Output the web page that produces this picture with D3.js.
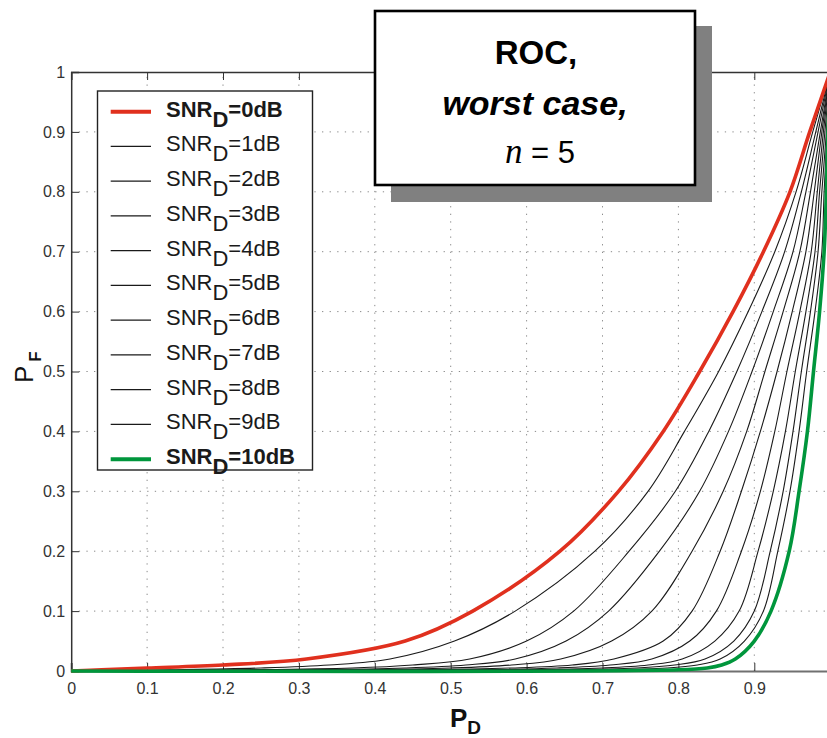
<!DOCTYPE html>
<html>
<head>
<meta charset="utf-8">
<script src="https://cdn.jsdelivr.net/npm/d3@7/dist/d3.min.js"></script>
<style>
  html, body { margin: 0; padding: 0; background: #fff; }
  svg { display: block; font-family: "Liberation Sans", Arial, sans-serif; }
</style>
</head>
<body>
<svg id="chart" width="827" height="738"></svg>
<script>
// ---- data ----
const pfLevels = [0, 0.002, 0.005, 0.01, 0.02, 0.05, 0.1, 0.2, 0.3, 0.4, 0.5, 0.6, 0.7, 0.8, 0.9, 1];
const pdSnr0dB  = [0, 0.04, 0.10, 0.20, 0.31, 0.44, 0.529, 0.644, 0.721, 0.780, 0.828, 0.872, 0.912, 0.947, 0.973, 1];
const pdSnr1dB  = [0, 0.13, 0.25, 0.34, 0.42, 0.505, 0.585, 0.690, 0.760, 0.808, 0.853, 0.892, 0.927, 0.955, 0.977, 1];
const pdSnr2dB  = [0, 0.22, 0.37, 0.45, 0.525, 0.600, 0.662, 0.735, 0.796, 0.840, 0.877, 0.910, 0.940, 0.962, 0.981, 1];
const pdSnr3dB  = [0, 0.30, 0.44, 0.52, 0.585, 0.652, 0.708, 0.775, 0.828, 0.866, 0.897, 0.925, 0.951, 0.968, 0.984, 1];
const pdSnr4dB  = [0, 0.37, 0.50, 0.58, 0.645, 0.712, 0.765, 0.818, 0.859, 0.890, 0.914, 0.938, 0.960, 0.974, 0.987, 1];
const pdSnr5dB  = [0, 0.45, 0.58, 0.66, 0.715, 0.780, 0.818, 0.855, 0.883, 0.908, 0.930, 0.950, 0.968, 0.979, 0.989, 1];
const pdSnr6dB  = [0, 0.52, 0.64, 0.71, 0.765, 0.815, 0.850, 0.883, 0.908, 0.927, 0.943, 0.960, 0.975, 0.983, 0.991, 1];
const pdSnr7dB  = [0, 0.59, 0.70, 0.76, 0.805, 0.848, 0.880, 0.905, 0.925, 0.941, 0.954, 0.968, 0.980, 0.986, 0.993, 1];
const pdSnr8dB  = [0, 0.65, 0.745, 0.795, 0.835, 0.873, 0.900, 0.921, 0.938, 0.951, 0.962, 0.974, 0.984, 0.989, 0.995, 1];
const pdSnr9dB  = [0, 0.70, 0.785, 0.825, 0.855, 0.887, 0.912, 0.931, 0.947, 0.959, 0.969, 0.980, 0.989, 0.992, 0.996, 1];
const pdSnr10dB = [0, 0.80, 0.838, 0.857, 0.875, 0.900, 0.922, 0.946, 0.959, 0.970, 0.978, 0.986, 0.992, 0.995, 0.997, 1];

const seriesNames = ["0dB","1dB","2dB","3dB","4dB","5dB","6dB","7dB","8dB","9dB","10dB"];
const seriesPd = [pdSnr0dB, pdSnr1dB, pdSnr2dB, pdSnr3dB, pdSnr4dB, pdSnr5dB, pdSnr6dB, pdSnr7dB, pdSnr8dB, pdSnr9dB, pdSnr10dB];

const xTickValues = [0, 0.1, 0.2, 0.3, 0.4, 0.5, 0.6, 0.7, 0.8, 0.9];
const yTickValues = [0, 0.1, 0.2, 0.3, 0.4, 0.5, 0.6, 0.7, 0.8, 0.9, 1];
const gridValues = [0.1, 0.2, 0.3, 0.4, 0.5, 0.6, 0.7, 0.8, 0.9];

// ---- layout ----
const svg = d3.select("#chart");
const x = d3.scaleLinear().domain([0, 1]).range([71.2, 830.2]);
const y = d3.scaleLinear().domain([0, 1]).range([671, 72]);

const red = "#e0301e", green = "#00963c";
function styleOf(i) {
  if (i === 0) return { color: red, width: 3.6 };
  if (i === 10) return { color: green, width: 3.6 };
  return { color: "#1a1a1a", width: 1.1 };
}
const fmt = v => (v === 0 ? "0" : v === 1 ? "1" : String(+v.toFixed(1)));

// grid
const grid = svg.append("g").attr("stroke", "#8a8a8a").attr("stroke-width", 1).attr("stroke-dasharray", "1.3,6.3");
grid.selectAll("line.v").data(gridValues).join("line").attr("class", "v")
  .attr("x1", d => x(d)).attr("x2", d => x(d)).attr("y1", y(0)).attr("y2", y(1));
grid.selectAll("line.h").data(gridValues).join("line").attr("class", "h")
  .attr("x1", x(0)).attr("x2", x(1)).attr("y1", d => y(d)).attr("y2", d => y(d));

// axes
const xAxis = d3.axisBottom(x).tickValues(xTickValues).tickFormat(fmt).tickSize(-8).tickPadding(12);
const gx = svg.append("g").attr("transform", `translate(0,${y(0)})`).call(xAxis);
gx.select(".domain").attr("stroke", "#707070").attr("stroke-width", 2);
gx.selectAll(".tick line").attr("stroke", "#333");
gx.selectAll(".tick text").attr("font-size", 16).attr("fill", "#333")
  .attr("font-family", "'Liberation Sans', Arial, sans-serif");

const xTop = d3.axisTop(x).tickValues(xTickValues).tickFormat("").tickSize(-8);
const gt = svg.append("g").attr("transform", `translate(0,${y(1)})`).call(xTop);
gt.select(".domain").attr("stroke", "#333").attr("stroke-width", 1.5);
gt.selectAll(".tick line").attr("stroke", "#333");

const yAxis = d3.axisLeft(y).tickValues(yTickValues).tickFormat(fmt).tickSize(-8).tickPadding(6);
const gy = svg.append("g").attr("transform", `translate(${x(0)},0)`).call(yAxis);
gy.select(".domain").attr("stroke", "#333").attr("stroke-width", 1.5);
gy.selectAll(".tick line").attr("stroke", "#333");
gy.selectAll(".tick text").attr("font-size", 16).attr("fill", "#333")
  .attr("font-family", "'Liberation Sans', Arial, sans-serif");

// curves
const line = d3.line().x(d => x(d[0])).y(d => y(d[1])).curve(d3.curveCatmullRom.alpha(0.5));
const order = [1,2,3,4,5,6,7,8,9,0,10];
const curves = svg.append("g").attr("fill", "none").attr("stroke-linejoin", "round");
order.forEach(i => {
  const pts = seriesPd[i].map((pd, k) => [pd, pfLevels[k]]);
  const s = styleOf(i);
  curves.append("path").attr("d", line(pts)).attr("stroke", s.color).attr("stroke-width", s.width);
});

// legend
const lg = svg.append("g");
lg.append("rect").attr("x", 97.5).attr("y", 91).attr("width", 215).attr("height", 379)
  .attr("fill", "#fff").attr("stroke", "#222").attr("stroke-width", 1.4);
const rowY0 = 111.7, rowStep = 34.75;
seriesNames.forEach((name, i) => {
  const yy = rowY0 + i * rowStep;
  const s = styleOf(i);
  const bold = (i === 0 || i === 10);
  lg.append("line").attr("x1", 110.7).attr("x2", 151).attr("y1", yy).attr("y2", yy)
    .attr("stroke", s.color).attr("stroke-width", bold ? 4 : 1.2);
  const t = lg.append("text").attr("x", 166).attr("y", yy + 5).attr("font-size", 22)
    .attr("fill", "#1a1a1a").attr("font-weight", bold ? "bold" : "normal");
  t.append("tspan").text("SNR");
  t.append("tspan").attr("dy", 10).text("D");
  t.append("tspan").attr("dy", -10).text("=" + name);
});

// axis labels
const xl = svg.append("text").attr("x", 450).attr("y", 727).attr("font-weight", "bold").attr("fill", "#111");
xl.append("tspan").attr("font-size", 26).text("P");
xl.append("tspan").attr("font-size", 19).attr("dy", 7).text("D");

const yl = svg.append("text").attr("transform", "translate(33,383) rotate(-90)").attr("fill", "#111");
yl.append("tspan").attr("font-size", 26).text("P");
yl.append("tspan").attr("font-size", 17).attr("font-weight", "bold").attr("dx", 4).attr("dy", 8).text("F");

// title box
const tb = svg.append("g");
tb.append("rect").attr("x", 391).attr("y", 26).attr("width", 321).attr("height", 176).attr("fill", "#808080");
tb.append("rect").attr("x", 375).attr("y", 11).attr("width", 320).attr("height", 174)
  .attr("fill", "#fff").attr("stroke", "#000").attr("stroke-width", 2.6);
tb.append("text").attr("x", 536).attr("y", 64).attr("text-anchor", "middle")
  .attr("font-size", 33).attr("font-weight", "bold").attr("fill", "#000").text("ROC,");
tb.append("text").attr("x", 535).attr("y", 115).attr("text-anchor", "middle")
  .attr("font-size", 34).attr("font-weight", "bold").attr("font-style", "italic").attr("fill", "#000").text("worst case,");
const nt = tb.append("text").attr("x", 540).attr("y", 163).attr("text-anchor", "middle").attr("fill", "#000");
nt.append("tspan").attr("font-family", "'Liberation Serif', 'Times New Roman', serif").attr("font-style", "italic").attr("font-size", 35).text("n");
nt.append("tspan").attr("font-size", 31).text(" = 5");
</script>
</body>
</html>
